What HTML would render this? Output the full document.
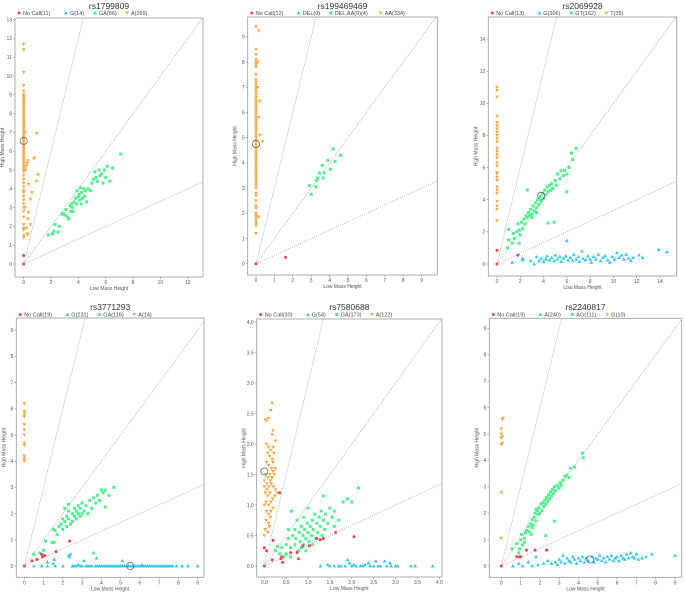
<!DOCTYPE html>
<html><head><meta charset="utf-8"><style>
html,body{margin:0;padding:0;background:#fff;}
svg{display:block;font-family:"Liberation Sans",sans-serif;}
</style></head><body>
<svg id="chart" width="685" height="594" viewBox="0 0 685 594" xmlns="http://www.w3.org/2000/svg"></svg>
<script>
// ---------- data ----------
const titles = ["rs1799809","rs199469469","rs2069928","rs3771293","rs7580688","rs2240817"];
const legendLabels = [
 ["No Call(11)","G(14)","GA(86)","A(269)"],
 ["No Call(12)","DEL(0)","DEL.AA(0)(4)","AA(334)"],
 ["No Call(13)","G(306)","GT(162)","T(39)"],
 ["No Call(19)","G(231)","GA(116)","A(14)"],
 ["No Call(30)","G(54)","GA(173)","A(122)"],
 ["No Call(19)","A(240)","AG(111)","G(10)"]
];
const xTicks = [[0,2,4,6,8,10,12],[0,1,2,3,4,5,6,7,8,9],[0,2,4,6,8,10,12,14],[0,1,2,3,4,5,6,7,8,9],[0,0.5,1,1.5,2,2.5,3,3.5,4],[0,1,2,3,4,5,6,7,8,9]];
const yTicks = [[0,1,2,3,4,5,6,7,8,9,10,11,12,13],[0,1,2,3,4,5,6,7,8,9],[0,2,4,6,8,10,12,14],[0,1,2,3,4,5,6,7,8,9],[0,0.5,1,1.5,2,2.5,3,3.5,4],[0,1,2,3,4,5,6,7,8,9]];
const xTickFmt = [0,0,0,0,1,0];
const p1OrangeY = [1.4,1.5,1.8,1.9,2.1,2.5,2.8,3.0,3.2,3.4,3.6,3.8,3.9,4.1,4.3,4.5,4.7,4.9,5.0,5.1,5.2,5.3,5.4,5.5,5.6,5.7,5.8,5.9,6.0,6.1,6.2,6.3,6.4,6.5,6.6,6.7,6.8,6.9,7.0,7.1,7.2,7.3,7.4,7.5,7.6,7.7,7.8,7.9,8.0,8.1,8.2,8.3,8.4,8.5,8.6,8.7,8.8,8.9,9.0,9.2,9.5,10.2,11.4,11.7];
const p1Orange = [[0.1,7],[0.95,6.95],[0.8,5.65],[0.75,5.6],[0.3,5.5],[0.25,5.35],[0.2,5.2],[0.15,5.0],[1.05,4.75],[0.95,4.4],[0.35,4.25],[0.6,3.8],[0.5,3.45],[0.35,2.75],[0.3,2.4],[0.5,2.1],[0.2,1.9],[0.25,1.6],[0.3,1.55],[0.1,3.0]];
const p1Green = [[1.8,1.55],[2.1,1.6],[2.2,1.75],[2.3,2.1],[2.5,1.7],[2.6,2.0],[2.8,2.65],[2.9,2.7],[3.0,2.6],[3.1,2.9],[3.2,2.5],[3.3,2.4],[3.4,3.1],[3.45,2.8],[3.5,3.2],[3.55,3.0],[3.6,2.8],[3.7,3.3],[3.8,3.5],[3.85,3.2],[3.9,3.9],[4.0,3.6],[4.05,3.7],[4.1,3.4],[4.15,4.05],[4.2,3.2],[4.25,3.8],[4.3,3.5],[4.4,4.0],[4.45,3.6],[4.5,3.9],[4.6,3.3],[4.7,4.0],[4.9,3.9],[5.0,4.3],[5.1,4.5],[5.2,4.9],[5.3,4.6],[5.4,4.4],[5.5,5.0],[5.6,4.7],[5.7,4.8],[5.8,4.3],[5.9,5.0],[6.0,4.6],[6.1,5.2],[6.3,4.4],[6.5,5.1],[7.1,5.85]];
const p1Red = [[0,0],[0,0.45]];
const p1Sel = [[0,6.55]];

const p2OrangeY = [1.2,1.5,1.6,1.7,1.8,1.9,2.0,2.2,2.3,2.5,2.7,2.8,3.0,3.1,3.2,3.3,3.4,3.5,3.6,3.7,3.8,3.9,4.0,4.1,4.2,4.3,4.4,4.5,4.6,4.7,4.8,4.9,5.0,5.1,5.2,5.3,5.4,5.5,5.6,5.7,5.8,5.9,6.0,6.1,6.2,6.3,6.4,6.5,6.6,6.7,6.8,6.9,7.0,7.1,7.2,7.3,7.5,7.8,7.9,8.0,8.1,8.3,8.5,9.4];
const p2Orange = [[0.15,9.25],[0.2,6.45],[0.15,5.8],[0.2,5.1],[0.35,4.85],[0.15,1.85],[0.1,7.0],[0.1,8.0]];
const p2Green = [[2.9,3.1],[3.0,2.75],[3.25,3.05],[3.3,3.3],[3.35,3.4],[3.45,3.6],[3.6,3.9],[3.65,3.4],[3.7,3.6],[3.9,4.1],[4.05,3.75],[4.2,4.55],[4.3,4.05],[4.6,4.3]];
const p2Red = [[0,0],[1.6,0.25]];
const p2Sel = [[0,4.75]];

const p3OrangeY = [2.7,3.4,3.6,3.9,4.4,4.6,4.8,5.2,5.4,5.6,5.7,6.1,6.3,6.6,6.8,7.0,7.2,7.6,7.8,8.0,8.2,8.4,8.6,8.8,9.2,10.4,10.8,11.0];
const p3Orange = [];
const p3Green = [[0.9,1.0],[1.0,2.15],[1.0,1.5],[1.3,1.3],[1.4,1.9],[1.5,1.6],[1.7,2.0],[1.8,2.5],[1.9,2.1],[2.0,1.8],[2.1,2.6],[2.2,2.2],[2.3,2.8],[2.4,2.5],[2.5,3.0],[2.6,4.6],[2.6,2.9],[2.7,3.2],[2.8,3.0],[2.9,3.4],[3.0,3.1],[3.1,3.6],[3.2,3.3],[3.3,3.8],[3.4,3.5],[3.5,4.0],[3.6,3.7],[3.7,4.2],[3.8,3.9],[3.9,4.4],[4.0,4.1],[4.1,4.6],[4.2,4.3],[4.3,4.8],[4.4,4.5],[4.4,2.55],[4.5,4.9],[4.6,4.6],[4.7,5.0],[4.8,4.7],[4.9,2.6],[5.0,5.2],[5.1,4.9],[5.2,5.6],[5.4,5.3],[5.5,5.8],[5.7,5.5],[5.8,5.8],[6.0,4.5],[6.0,5.6],[6.2,6.0],[6.4,6.9],[6.5,6.5],[6.8,7.2],[1.9,1.3],[3.0,2.9],[3.4,3.2]];
const p3Blue = [[1.3,0.1],[2.2,0.25],[2.2,0.35],[2.9,0.2],[3.2,0.0],[3.4,0.45],[3.6,0.2],[3.8,0.35],[4.0,0.15],[4.2,0.3],[4.3,0.5],[4.5,0.25],[4.7,0.4],[4.9,0.2],[5.0,0.55],[5.2,0.3],[5.4,0.45],[5.5,0.15],[5.7,0.35],[5.9,0.5],[6.0,1.45],[6.1,0.25],[6.3,0.4],[6.5,0.2],[6.6,0.6],[6.8,0.3],[7.0,0.45],[7.1,0.15],[7.3,0.8],[7.4,0.35],[7.6,0.25],[7.8,0.5],[8.0,0.3],[8.1,0.1],[8.3,0.45],[8.5,0.3],[8.7,0.6],[8.9,0.2],[9.1,0.4],[9.3,0.5],[9.5,0.25],[9.7,0.1],[9.9,0.45],[10.1,0.3],[10.3,0.7],[10.5,0.4],[10.7,0.55],[10.9,0.3],[11.1,0.6],[11.3,0.35],[11.5,0.2],[11.7,0.4],[12.2,0.55],[12.5,0.4],[13.9,0.9],[14.6,0.75]];
const p3Red = [[0,0],[0,0.85],[1.8,0.55]];
const p3Sel = [[3.8,4.25]];

const p4OrangeY = [4.0,4.1,4.2,4.6,4.7,5.0,5.2,5.4,5.7,5.8,5.9,6.2];
const p4Orange = [];
const p4Green = [[0.5,0.45],[0.8,0.5],[1.0,0.6],[1.1,0.95],[1.45,0.9],[1.55,0.9],[1.5,1.4],[1.6,1.35],[1.7,1.2],[1.8,1.5],[1.9,1.6],[2.0,1.4],[2.0,1.8],[2.1,1.7],[2.2,1.9],[2.2,1.5],[2.3,1.8],[2.3,2.1],[2.4,1.6],[2.5,2.0],[2.5,1.7],[2.6,2.2],[2.6,1.9],[2.7,2.1],[2.7,1.8],[2.8,2.3],[2.8,2.0],[2.9,2.2],[2.9,1.9],[3.0,2.4],[3.0,2.0],[3.1,2.1],[3.2,2.3],[3.3,2.0],[3.4,2.5],[3.5,2.2],[3.6,2.6],[3.7,2.4],[3.8,2.7],[3.9,2.5],[4.0,2.9],[4.1,2.8],[4.2,2.25],[4.2,2.9],[4.4,2.7],[4.65,3.0],[2.1,2.2],[2.3,2.35]];
const p4Blue = [[0.5,0],[0.9,0],[1.2,0.15],[1.2,0],[1.5,0.1],[1.55,0.25],[1.6,0],[2.0,0],[2.3,0.4],[2.4,0.45],[2.35,0.35],[2.5,0],[2.7,0],[2.8,0.05],[3.0,0],[3.1,0.2],[3.3,0],[3.5,0],[3.6,0.5],[3.75,0.3],[3.8,0],[4.0,0],[4.2,0],[4.4,0],[4.6,0],[4.8,0],[5.0,0],[5.1,0.2],[5.2,0],[5.4,0],[5.6,0],[5.8,0],[6.0,0],[6.1,0.05],[6.2,0],[6.4,0],[6.6,0],[6.8,0],[7.0,0],[7.2,0],[7.4,0],[7.6,0],[7.9,0],[8.2,0],[8.5,0],[9.0,0],[2.6,0],[2.9,0],[3.2,0],[3.4,0],[3.7,0],[3.9,0],[4.1,0],[4.3,0],[4.5,0],[4.7,0],[4.9,0],[5.1,0],[5.3,0],[5.5,0],[5.7,0],[5.9,0],[6.1,0],[6.3,0],[6.5,0],[6.7,0],[6.9,0],[7.1,0],[7.3,0],[7.5,0],[7.7,0]];
const p4Red = [[0,0],[0.4,0.2],[0.65,0.25],[0.9,0.45],[0.95,0.35],[1.05,0.4],[1.65,0.55],[2.35,0.95]];
const p4Sel = [[5.5,0]];

const p5OrangeY = [];
const p5Orange = [[0.0,1.0],[0.0,1.3],[0.02,2.4],[0.05,2.38],[0.1,2.42],[0.15,2.55],[0.18,2.67],[0.2,2.22],[0.18,2.15],[0.05,2.0],[0.1,1.95],[0.15,1.9],[0.2,1.95],[0.25,2.05],[0.08,1.85],[0.12,1.8],[0.18,1.75],[0.22,1.85],[0.05,1.7],[0.1,1.65],[0.16,1.6],[0.2,1.7],[0.25,1.6],[0.03,1.5],[0.08,1.45],[0.13,1.5],[0.18,1.45],[0.23,1.5],[0.0,1.4],[0.06,1.35],[0.11,1.3],[0.16,1.35],[0.21,1.3],[0.26,1.25],[0.02,1.2],[0.08,1.15],[0.13,1.2],[0.19,1.1],[0.24,1.15],[0.3,1.2],[0.04,1.05],[0.1,1.0],[0.15,1.05],[0.2,0.95],[0.05,0.9],[0.1,0.85],[0.15,0.9],[0.04,0.75],[0.1,0.7],[0.14,0.8],[0.02,0.6],[0.08,0.55],[0.12,0.65],[0.0,0.5],[0.06,1.25],[0.14,1.4],[0.2,1.55]];
const p5Green = [[0.25,0.25],[0.3,0.32],[0.35,0.2],[0.4,0.3],[0.45,0.15],[0.5,0.35],[0.5,0.2],[0.55,0.45],[0.6,0.3],[0.62,0.9],[0.65,0.5],[0.7,0.35],[0.7,0.6],[0.72,0.45],[0.75,0.75],[0.78,0.25],[0.8,0.55],[0.82,0.4],[0.85,0.65],[0.88,0.5],[0.9,0.35],[0.9,0.8],[0.92,0.6],[0.95,0.45],[0.98,0.7],[1.0,0.95],[1.0,0.55],[1.02,0.4],[1.05,0.65],[1.08,0.5],[1.1,0.75],[1.12,0.6],[1.15,0.85],[1.18,0.45],[1.2,0.7],[1.22,0.55],[1.25,0.8],[1.28,0.65],[1.3,0.9],[1.32,0.5],[1.35,0.75],[1.35,1.15],[1.38,0.6],[1.4,0.85],[1.45,0.7],[1.5,0.95],[1.55,0.8],[1.6,0.65],[1.6,0.9],[1.7,0.75],[1.8,1.05],[1.9,1.1],[2.0,1.05],[2.15,1.28],[0.95,0.25],[1.1,0.35],[0.6,0.15],[0.55,0.6],[0.85,0.3]];
const p5Blue = [[1.28,0],[1.45,0.02],[1.5,0],[1.6,0],[1.7,0],[1.75,0],[1.85,0],[1.9,0.1],[1.95,0.05],[2.0,0],[2.05,0.02],[2.1,0],[2.2,0],[2.25,0],[2.3,0.02],[2.38,0.05],[2.42,0],[2.5,0],[2.55,0.08],[2.6,0],[2.65,0],[2.75,0.08],[2.8,0],[2.87,0.05],[2.9,0],[3.0,0],[3.05,0],[3.35,0],[3.45,0],[3.85,0]];
const p5Red = [[0,0],[0,0.3],[0.05,0.25],[0.2,0.42],[0.18,0.1],[0.4,0.15],[0.42,0.06],[0.38,0.12],[0.6,0.22],[0.75,0.22],[0.78,0.12],[0.88,0.33],[1.03,0.33],[1.2,0.45],[1.28,0.43],[1.35,0.45],[1.63,0.55],[2.05,0.48],[0.35,1.2]];
const p5Sel = [[0,1.55]];

const p6OrangeY = [1.05,2.78,4.6,4.85,5.0,5.2];
const p6Orange = [[0.05,4.65],[0.05,4.9],[0.05,5.55],[0.1,5.6]];
const p6Green = [[0.55,0.65],[0.8,0.85],[0.9,0.5],[0.95,0.65],[1.0,1.0],[1.05,1.2],[1.1,0.8],[1.2,0.9],[1.25,1.25],[1.3,1.35],[1.4,1.5],[1.45,1.3],[1.5,1.6],[1.55,1.2],[1.6,1.75],[1.65,1.55],[1.7,1.85],[1.75,2.0],[1.8,1.7],[1.85,2.1],[1.9,1.95],[1.95,2.2],[2.0,2.0],[2.05,2.35],[2.1,2.1],[2.15,2.4],[2.2,2.25],[2.25,2.5],[2.3,1.15],[2.3,2.35],[2.35,2.6],[2.4,2.45],[2.45,2.7],[2.5,2.55],[2.55,2.8],[2.6,2.65],[2.65,2.9],[2.7,2.75],[2.75,1.7],[2.75,3.0],[2.8,2.85],[2.9,3.05],[3.0,2.95],[3.05,3.15],[3.1,3.05],[3.2,3.25],[3.3,3.4],[3.4,3.45],[3.5,3.35],[3.6,3.7],[3.8,3.75],[4.2,4.28],[4.25,4.1],[1.8,2.15],[1.6,1.45],[1.2,1.05]];
const p6Blue = [[0.6,0],[0.9,0.1],[1.1,0],[1.4,0.15],[1.6,0],[1.8,0.35],[1.9,0.05],[2.2,0.1],[2.4,0.2],[2.6,0.1],[2.8,0.15],[2.9,0.05],[3.0,0.25],[3.1,0.15],[3.2,0.4],[3.3,0.1],[3.4,0.3],[3.5,0.2],[3.6,0.15],[3.7,0.35],[3.8,0.25],[3.9,0.1],[4.0,0.3],[4.1,0.2],[4.2,0.35],[4.3,0.15],[4.4,0.3],[4.5,0.2],[4.7,0.35],[4.8,0.15],[4.9,0.3],[5.0,0.25],[5.1,0.4],[5.2,0.2],[5.3,0.3],[5.4,0.15],[5.5,0.35],[5.6,0.25],[5.7,0.4],[5.8,0.2],[5.9,0.3],[6.0,0.35],[6.1,0.2],[6.2,0.4],[6.3,0.3],[6.4,0.25],[6.5,0.45],[6.6,0.3],[6.7,0.5],[6.8,0.35],[6.9,0.3],[7.0,0.45],[7.1,0.25],[7.3,0.3],[7.5,0.35],[7.8,0.45],[9.0,0.4]];
const p6Red = [[0,0],[0.8,0.35],[0.95,0.35],[1.0,0.35],[1.3,0.6],[1.75,0.6],[2.35,0.6]];
const p6Sel = [[4.6,0.25]];

const orangeColumns = [p1OrangeY,p2OrangeY,p3OrangeY,p4OrangeY,p5OrangeY,p6OrangeY];
const orangePts = [p1Orange,p2Orange,p3Orange,p4Orange,p5Orange,p6Orange];
const greenPts = [p1Green,p2Green,p3Green,p4Green,p5Green,p6Green];
const bluePts = [[],[],p3Blue,p4Blue,p5Blue,p6Blue];
const redPts = [p1Red,p2Red,p3Red,p4Red,p5Red,p6Red];
const selPts = [p1Sel,p2Sel,p3Sel,p4Sel,p5Sel,p6Sel];
const guideSlopes = [3,1,1/3];

// ---------- layout (pixels) ----------
const panels = [
 {L:15,R:203,T:18,B:277,x0:23.7,xs:13.67,y0:264,ys:18.8,ty:6,ly:13},
 {L:247.7,R:437.3,T:17,B:275,x0:256,xs:18.4,y0:263.7,ys:25.2,ty:6,ly:13},
 {L:488.3,R:676.7,T:17,B:276,x0:497,xs:11.64,y0:264,ys:16.07,ty:6,ly:13},
 {L:16.3,R:204,T:318,B:577.3,x0:24.3,xs:19.26,y0:566,ys:26.2,ty:307,ly:314.5},
 {L:256.7,R:442,T:319,B:577,x0:264.3,xs:43.75,y0:566,ys:61,ty:307,ly:314.5},
 {L:489.3,R:681.7,T:318.3,B:577.3,x0:501.3,xs:19.3,y0:566,ys:26.4,ty:307,ly:314.5}
];
const COL = {red:"#e8474a",blue:"#2fc6ef",green:"#52ef8e",orange:"#f7a845"};
const NS="http://www.w3.org/2000/svg";
const svg=document.getElementById('chart');
function mk(tag,attrs,parent){const e=document.createElementNS(NS,tag);for(const k in attrs)e.setAttribute(k,attrs[k]);(parent||svg).appendChild(e);return e;}

panels.forEach((P,i)=>{
 const g=mk('g',{});
 
 
 const sx=v=>P.x0+v*P.xs, sy=v=>P.y0-v*P.ys;
 const cx=(P.L+P.R)/2;
 const t=mk('text',{x:cx,y:P.ty+3,'text-anchor':'middle','font-size':'8.5',fill:'#333'},g);t.textContent=titles[i];
 
 
 const lg=mk('g',{},g);
 
 
 let lx=P.L+4; const cols=[COL.red,COL.blue,COL.green,COL.orange];
 legendLabels[i].forEach((lab,k)=>{
  const e=mk('g',{},lg);
  
  
  drawMarker(e,k,lx,P.ly,cols[k]);
  const tx=mk('text',{x:lx+4,y:P.ly+2,'font-size':'5.5',fill:'#444'},e);tx.textContent=lab;
  lx+=8+lab.length*3.0+6;
 });
 const box=mk('rect',{x:P.L,y:P.T,width:P.R-P.L,height:P.B-P.T,fill:'none',stroke:'#9a9a9a','stroke-width':'0.8'},g);
 
 
 xTicks[i].forEach(v=>{
  const X=sx(v);
  mk('line',{x1:X,x2:X,y1:P.B,y2:P.B+2,stroke:'#888','stroke-width':'0.6'},g);
  const tt=mk('text',{x:X,y:P.B+7,'text-anchor':'middle','font-size':'5',fill:'#555'},g);
  tt.textContent=xTickFmt[i]?v.toFixed(1):v;
  
  
 });
 yTicks[i].forEach(v=>{
  const Y=sy(v);
  mk('line',{x1:P.L-2,x2:P.L,y1:Y,y2:Y,stroke:'#888','stroke-width':'0.6'},g);
  const tt=mk('text',{x:P.L-3,y:Y+1.8,'text-anchor':'end','font-size':'5',fill:'#555'},g);
  tt.textContent=xTickFmt[i]?v.toFixed(1):v;
  
  
 });
 const xl=mk('text',{x:cx,y:P.B+13,'text-anchor':'middle','font-size':'5',fill:'#555'},g);xl.textContent='Low Mass Height';
 
 
 const yx=P.L-11, ymid=(P.T+P.B)/2;
 const yl=mk('text',{x:yx,y:ymid,'text-anchor':'middle','font-size':'5',fill:'#555',transform:`rotate(-90 ${yx} ${ymid})`},g);yl.textContent='High Mass Height';
 
 
 const clipId='clip'+i;
 const cp=mk('clipPath',{id:clipId},g); mk('rect',{x:P.L,y:P.T,width:P.R-P.L,height:P.B-P.T},cp);
 const pg=mk('g',{'clip-path':`url(#${clipId})`},g);
 const xmax=(P.R-P.x0)/P.xs;
 guideSlopes.forEach(s=>{
  const l=mk('line',{x1:sx(0),y1:sy(0),x2:sx(xmax*1.2),y2:sy(xmax*1.2*s),stroke:'#999','stroke-width':'0.7','stroke-dasharray':'1,1.2'},pg);
  
  
 });
 const pts=[];
 orangeColumns[i].forEach(y=>pts.push([3,0,y]));
 orangePts[i].forEach(p=>pts.push([3,p[0],p[1]]));
 greenPts[i].forEach(p=>pts.push([2,p[0],p[1]]));
 bluePts[i].forEach(p=>pts.push([1,p[0],p[1]]));
 redPts[i].forEach(p=>pts.push([0,p[0],p[1]]));
 const names=['no-call-point','hom-low-point','het-point','hom-high-point'];
 pts.forEach(p=>{
  const m=drawMarker(pg,p[0],sx(p[1]),sy(p[2]),cols[p[0]]);
  
  
 });
 selPts[i].forEach(p=>{
  const c=mk('circle',{cx:sx(p[0]),cy:sy(p[1]),r:3.6,fill:'none',stroke:'#555','stroke-width':'0.7'},pg);
  
  
 });
});

function drawMarker(parent,k,x,y,c){
 if(k===0) return mk('circle',{cx:x,cy:y,r:1.5,fill:c},parent);
 if(k===1) return mk('polygon',{points:`${x},${y-1.9} ${x-1.9},${y+1.4} ${x+1.9},${y+1.4}`,fill:c},parent);
 if(k===2) return mk('rect',{x:x-1.5,y:y-1.5,width:3,height:3,fill:c},parent);
 return mk('polygon',{points:`${x-1.9},${y-1.4} ${x+1.9},${y-1.4} ${x},${y+1.9}`,fill:c},parent);
}
</script>
</body></html>
